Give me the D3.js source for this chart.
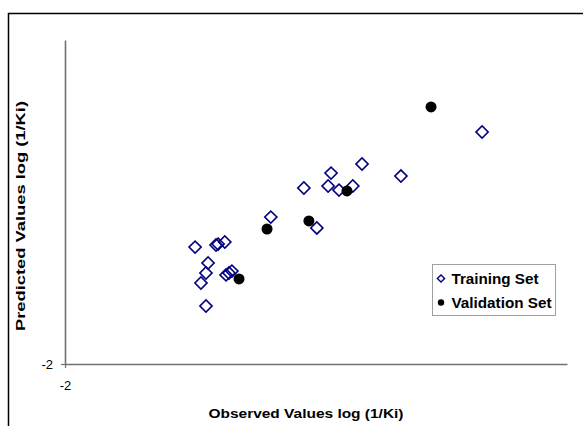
<!DOCTYPE html>
<html>
<head>
<meta charset="utf-8">
<script src="https://cdn.jsdelivr.net/npm/d3@7"></script>
<style>
	body { margin: 0; background: #fff; }
	text { font-family: Arial, "Liberation Sans", sans-serif; }
</style>
</head>
<body>
<div id="chart"></div>
<script>
// observed / predicted log(1/Ki)
var trainObserved = [1.11, 1.61, 1.66, 1.82, 1.42, 1.37, 1.25, 1.37, 1.85, 1.92, 1.99,
	2.92, 3.71, 4.36, 4.29, 4.55, 4.88, 5.10, 4.02, 6.03, 7.97];
var trainPredicted = [2.33, 2.41, 2.44, 2.52, 1.74, 1.37, 1.00, 0.15, 1.30, 1.37, 1.44,
	3.44, 4.52, 5.07, 4.59, 4.44, 4.59, 5.41, 3.04, 4.96, 6.59];
var validObserved = [2.16, 2.83, 3.83, 4.74, 6.75];
var validPredicted = [1.15, 3.00, 3.30, 4.41, 7.52];
var xTicks = [-2];
var yTicks = [-2];
var seriesNames = ["Training Set", "Validation Set"];

var width = 583,
	height = 426,
	plot = {left: 65, right: 567, top: 40, bottom: 364};

var x = d3.scaleLinear().domain([-2, 10]).range([plot.left, plot.right]),
	y = d3.scaleLinear().domain([-2, 10]).range([plot.bottom, plot.top]);

var svg = d3.select("#chart").append("svg")
	.attr("width", width)
	.attr("height", height);

// outer chart frame (runs off the right and bottom edges)
svg.append("path")
	.attr("d", "M8.5," + height + "V13.5H" + width)
	.attr("fill", "none")
	.attr("stroke", "#000")
	.attr("stroke-width", 1.5);

// axes - plain hyphen in the labels, like Excel
var plain = function(d) { return String(d); };
var xAxis = svg.append("g")
	.attr("transform", "translate(0," + plot.bottom + ")")
	.call(d3.axisBottom(x).tickValues(xTicks).tickFormat(plain)
		.tickSizeInner(4).tickSizeOuter(0).tickPadding(13));
var yAxis = svg.append("g")
	.attr("transform", "translate(" + plot.left + ",0)")
	.call(d3.axisLeft(y).tickValues(yTicks).tickFormat(plain)
		.tickSizeInner(4).tickSizeOuter(0).tickPadding(8));

[xAxis, yAxis].forEach(function(a) {
	a.select(".domain").attr("stroke", "#707070").attr("stroke-width", 1.6);
	a.selectAll(".tick line").attr("stroke", "#707070").attr("stroke-width", 1.2);
	a.selectAll(".tick text")
		.attr("fill", "#000")
		.style("font-size", "13px")
		.style("font-family", "Arial, 'Liberation Sans', sans-serif");
});

// training points: open navy diamonds
var diamond = d3.symbol().type(d3.symbolSquare).size(74);
svg.append("g")
	.selectAll("path")
	.data(d3.range(trainObserved.length))
	.enter().append("path")
	.attr("d", diamond)
	.attr("transform", function(i) {
		return "translate(" + x(trainObserved[i]) + "," + y(trainPredicted[i]) + ") rotate(45)";
	})
	.attr("fill", "none")
	.attr("stroke", "#000080")
	.attr("stroke-width", 1.6);

// validation points: filled black circles
svg.append("g")
	.selectAll("circle")
	.data(d3.range(validObserved.length))
	.enter().append("circle")
	.attr("cx", function(i) { return x(validObserved[i]); })
	.attr("cy", function(i) { return y(validPredicted[i]); })
	.attr("r", 5.5)
	.attr("fill", "#000");

// axis titles
svg.append("text")
	.attr("x", 306)
	.attr("y", 418)
	.attr("text-anchor", "middle")
	.attr("textLength", 195)
	.attr("lengthAdjust", "spacingAndGlyphs")
	.style("font-size", "13px")
	.style("font-weight", "bold")
	.text("Observed Values log (1/Ki)");

svg.append("text")
	.attr("transform", "translate(25,216) rotate(-90)")
	.attr("text-anchor", "middle")
	.attr("textLength", 230)
	.attr("lengthAdjust", "spacingAndGlyphs")
	.style("font-size", "13px")
	.style("font-weight", "bold")
	.text("Predicted Values log (1/Ki)");

// legend
var legend = svg.append("g").attr("transform", "translate(432.5,264.5)");
legend.append("rect")
	.attr("width", 123)
	.attr("height", 51)
	.attr("fill", "#fff")
	.attr("stroke", "#a0a0a0")
	.attr("stroke-width", 1);

legend.append("path")
	.attr("d", d3.symbol().type(d3.symbolSquare).size(26))
	.attr("transform", "translate(8.5,14) rotate(45)")
	.attr("fill", "none")
	.attr("stroke", "#000080")
	.attr("stroke-width", 1.4);
legend.append("circle")
	.attr("cx", 8.5)
	.attr("cy", 38)
	.attr("r", 3.2)
	.attr("fill", "#000");

var legendWidths = [87, 100];
legend.selectAll("text")
	.data(seriesNames)
	.enter().append("text")
	.attr("x", 19)
	.attr("y", function(d, i) { return 19 + i * 24; })
	.attr("textLength", function(d, i) { return legendWidths[i]; })
	.attr("lengthAdjust", "spacingAndGlyphs")
	.style("font-size", "14px")
	.style("font-weight", "bold")
	.text(function(d) { return d; });
</script>
</body>
</html>
